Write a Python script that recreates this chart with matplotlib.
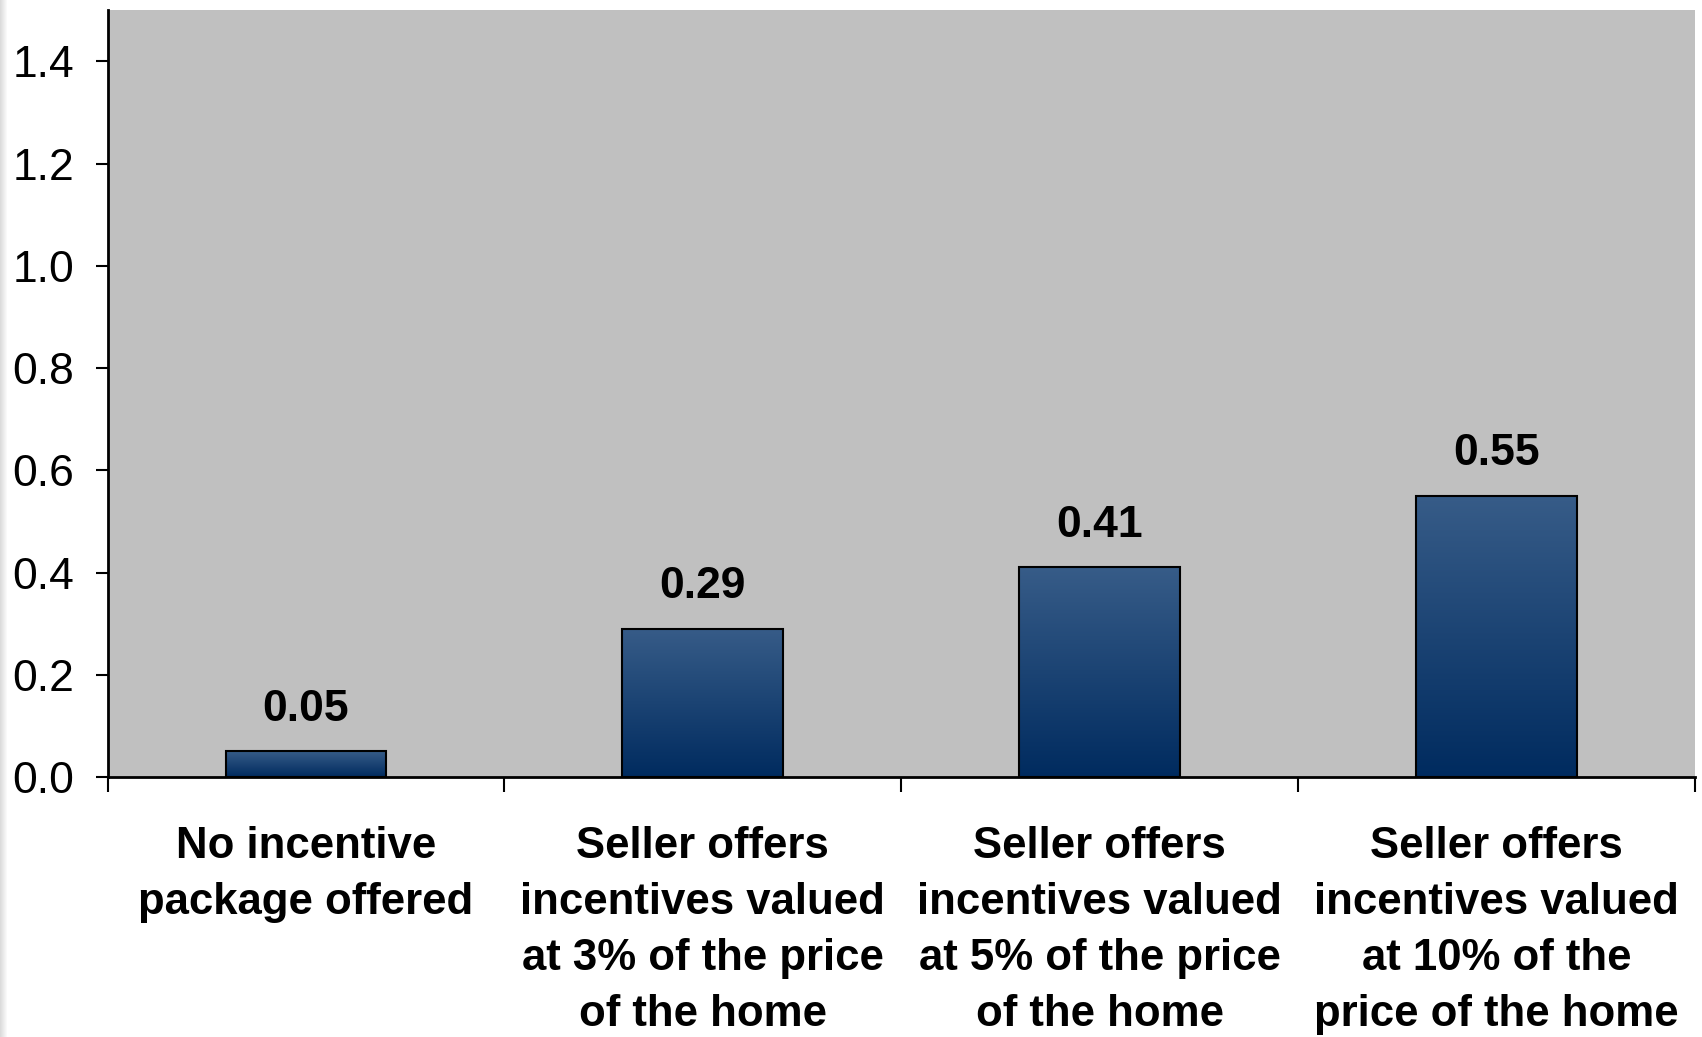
import matplotlib
matplotlib.use("Agg")
import matplotlib.pyplot as plt
import numpy as np
from matplotlib.colors import LinearSegmentedColormap
from matplotlib.patches import Rectangle

categories = [
    "No incentive\npackage offered",
    "Seller offers\nincentives valued\nat 3% of the price\nof the home",
    "Seller offers\nincentives valued\nat 5% of the price\nof the home",
    "Seller offers\nincentives valued\nat 10% of the\nprice of the home",
]
values = [0.05, 0.29, 0.41, 0.55]
value_labels = ["0.05", "0.29", "0.41", "0.55"]
yticks = [0.0, 0.2, 0.4, 0.6, 0.8, 1.0, 1.2, 1.4]
ytick_labels = ["0.0", "0.2", "0.4", "0.6", "0.8", "1.0", "1.2", "1.4"]

plt.rcParams['font.family'] = ['Liberation Sans', 'DejaVu Sans']

fig = plt.figure(figsize=(17.02, 10.37), dpi=100)
ax = fig.add_axes([0.0632, 0.2507, 0.9327, 0.7393])
ax.set_facecolor('#C0C0C0')

# left-edge shadow strip of the figure
for i, a in enumerate(np.linspace(0.35, 0.0, 8)):
    fig.add_artist(Rectangle((i / 1702, 0), 1 / 1702, 1, transform=fig.transFigure,
                             facecolor='#9a9a9a', alpha=a, edgecolor='none'))

x = np.arange(len(values))
bars = ax.bar(x, values, width=0.405, color='none', edgecolor='black', linewidth=1.5, zorder=3)

cmap = LinearSegmentedColormap.from_list('g', ['#002B5F', '#375C88'])
grad = np.linspace(0, 1, 256).reshape(-1, 1)
for b in bars:
    x0, y0 = b.get_x(), b.get_y()
    w, h = b.get_width(), b.get_height()
    im = ax.imshow(grad, cmap=cmap, origin='lower', aspect='auto',
                   extent=[x0, x0 + w, y0, y0 + h], zorder=2)
    im.set_clip_path(b)

for xi, v, lab in zip(x, values, value_labels):
    ax.annotate(lab, (xi, v), xytext=(0, 22), textcoords='offset points',
                ha='center', va='baseline', fontsize=32, fontweight='bold')

ax.set_xlim(-0.5, len(values) - 0.5)
ax.set_ylim(0, 1.5)
ax.set_yticks(yticks)
ax.set_yticklabels(ytick_labels)
ax.tick_params(axis='y', length=9, width=1.5, pad=15, labelsize=32, direction='out')

ax.set_xticks(x)
ax.set_xticklabels(categories, fontsize=31.5, fontweight='bold', linespacing=1.47)
ax.tick_params(axis='x', which='major', length=0, pad=35)
ax.set_xticks(np.arange(len(values) + 1) - 0.5, minor=True)
ax.tick_params(axis='x', which='minor', length=11, width=1.5, direction='out')

for s in ['top', 'right']:
    ax.spines[s].set_visible(False)
for s in ['left', 'bottom']:
    ax.spines[s].set_linewidth(2)

fig.savefig('out.png', dpi=100, facecolor='white')
